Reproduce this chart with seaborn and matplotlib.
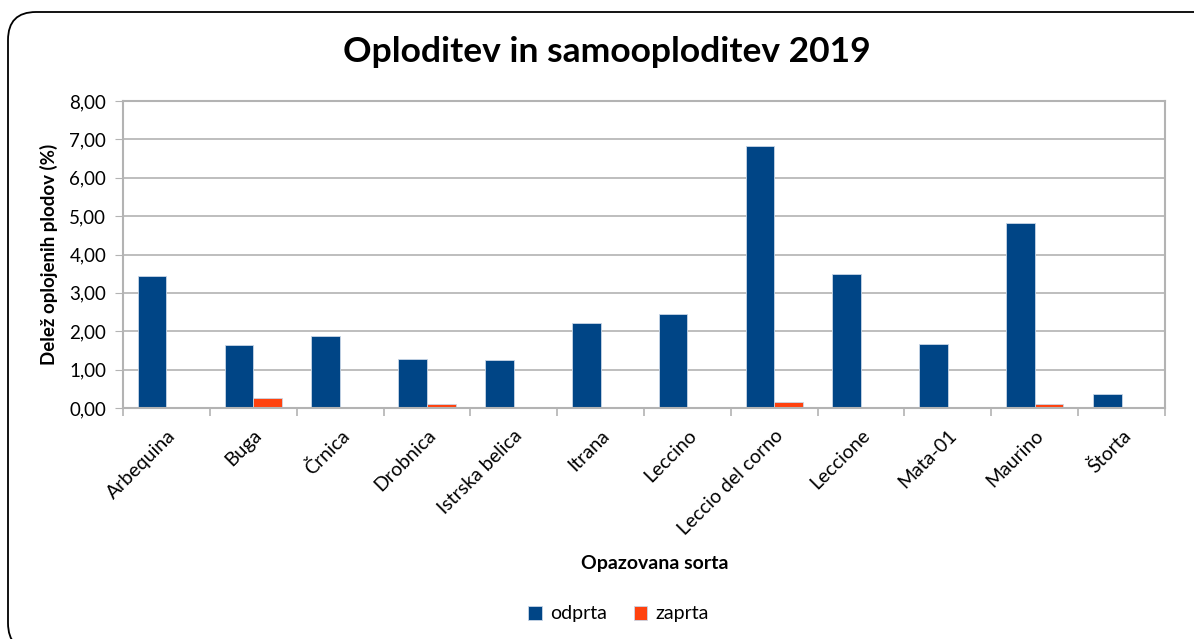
import seaborn as sns
import pandas as pd
import matplotlib.pyplot as plt
from matplotlib.patches import FancyBboxPatch
from matplotlib.ticker import FuncFormatter, FixedLocator

# podatki odčitani z grafa
sorte = ['Arbequina', 'Buga', 'Črnica', 'Drobnica', 'Istrska belica', 'Itrana',
         'Leccino', 'Leccio del corno', 'Leccione', 'Mata-01', 'Maurino', 'Štorta']
odprta = [3.43, 1.63, 1.87, 1.27, 1.24, 2.21, 2.46, 6.83, 3.49, 1.67, 4.83, 0.37]
zaprta = [0.03, 0.27, 0.0, 0.10, 0.0, 0.0, 0.0, 0.16, 0.0, 0.0, 0.10, 0.0]

df = pd.DataFrame({'sorta': sorte * 2,
                   'vrednost': odprta + zaprta,
                   'tip': ['odprta'] * len(sorte) + ['zaprta'] * len(sorte)})

sns.set_style('white')
plt.rcParams['font.family'] = ['Lato', 'DejaVu Sans']
plt.rcParams['text.color'] = 'black'
plt.rcParams['axes.labelcolor'] = 'black'
plt.rcParams['xtick.color'] = 'black'
plt.rcParams['ytick.color'] = 'black'

fig = plt.figure(figsize=(11.94, 6.39), dpi=100)
ax = fig.add_axes([123 / 1194, 1 - 408 / 639, (1165 - 123) / 1194, (408 - 101) / 639])

sns.barplot(data=df, x='sorta', y='vrednost', hue='tip', ax=ax, width=0.66,
            palette={'odprta': '#004586', 'zaprta': '#ff420e'}, saturation=1,
            edgecolor='#c9d6e6', linewidth=0.6)

ax.set_ylim(0, 8)
ax.set_xlim(-0.5, len(sorte) - 0.5)
ax.set_yticks(range(0, 9))
ax.yaxis.set_major_formatter(FuncFormatter(lambda v, p: f'{v:.2f}'.replace('.', ',')))
ax.yaxis.grid(True, color='#b3b3b3', linewidth=1.2)
ax.set_axisbelow(True)
for s in ax.spines.values():
    s.set_color('#b3b3b3')
    s.set_linewidth(1.5)

ax.tick_params(axis='y', left=True, length=6, color='#b3b3b3', labelsize=13.5, pad=6)
ax.set_xticks(range(len(sorte)))
ax.set_xticklabels(sorte, rotation=45, ha='right', rotation_mode='anchor', fontsize=14)
ax.tick_params(axis='x', bottom=False, pad=10)
ax.xaxis.set_minor_locator(FixedLocator([i - 0.5 for i in range(len(sorte) + 1)]))
ax.tick_params(axis='x', which='minor', bottom=True, length=6, color='#b3b3b3', width=1.2)

ax.set_xlabel('Opazovana sorta', fontsize=14, fontweight='bold')
ax.xaxis.set_label_coords(0.51, -0.48)
ax.set_ylabel('Delež oplojenih plodov (%)', fontsize=13.5, fontweight='bold', labelpad=8)

fig.text(0.508, 1 - 52 / 639, 'Oploditev in samooploditev 2019', ha='center', va='center',
         fontsize=25.5, fontweight='bold')

handles, labels = ax.get_legend_handles_labels()
ax.legend_.remove()
fig.legend(handles, labels, loc='center', bbox_to_anchor=(0.518, 1 - 614 / 639), ncol=2,
           frameon=False, fontsize=14, handlelength=0.7, handleheight=0.7,
           handletextpad=0.4, columnspacing=1.4)

# zaobljen okvir
okvir = FancyBboxPatch((8, -12), 1250, 640 - 12 + 12 - 1, boxstyle='round,pad=0,rounding_size=28',
                       transform=None, fill=False, edgecolor='black', linewidth=1.3)
fig.patches.append(okvir)

fig.savefig('out.png', dpi=100)
